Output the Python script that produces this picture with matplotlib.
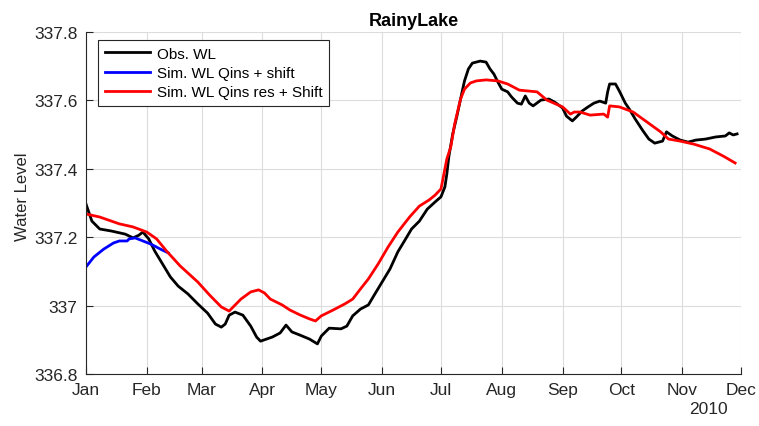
import numpy as np
import matplotlib
matplotlib.use("Agg")
import matplotlib.pyplot as plt
from matplotlib.ticker import FuncFormatter

plt.rcParams['font.family'] = ['Liberation Sans', 'DejaVu Sans']

YEAR_START = np.datetime64('2010-01-01')

# observed water level (day of year offset, level in m)
obs_day = [0, 3, 7, 13, 20, 24, 27, 29, 32, 35, 39, 43, 47, 52, 57, 62, 66, 69, 71, 73,
           76, 80, 84, 87, 89, 92, 95, 99, 102, 105, 109, 114, 118, 120, 124, 130, 133,
           136, 140, 144, 147, 151, 155, 159, 163, 166, 170, 174, 178, 181, 183, 184, 185,
           187, 189, 191, 193, 195, 197, 201, 204, 206, 208, 210, 212, 215, 217, 220, 222,
           224, 226, 228, 232, 236, 239, 243, 245, 248, 250, 253, 256, 259, 262, 265, 266,
           267, 270, 272, 275, 277, 280, 284, 287, 290, 294, 296, 299, 303, 307, 311, 316,
           321, 326, 328, 330, 332]
obs_wl = [337.297, 337.247, 337.224, 337.218, 337.209, 337.198, 337.206, 337.215, 337.195,
          337.160, 337.122, 337.084, 337.057, 337.034, 337.005, 336.978, 336.946, 336.937,
          336.946, 336.972, 336.981, 336.972, 336.940, 336.908, 336.896, 336.902, 336.908,
          336.920, 336.943, 336.923, 336.914, 336.902, 336.888, 336.911, 336.934, 336.932,
          336.940, 336.970, 336.990, 337.002, 337.031, 337.069, 337.107, 337.157, 337.195,
          337.224, 337.247, 337.282, 337.303, 337.318, 337.347, 337.385, 337.435, 337.502,
          337.551, 337.604, 337.657, 337.692, 337.709, 337.715, 337.712, 337.692, 337.677,
          337.654, 337.633, 337.625, 337.610, 337.592, 337.589, 337.613, 337.592, 337.584,
          337.601, 337.604, 337.595, 337.578, 337.554, 337.540, 337.551, 337.569, 337.581,
          337.592, 337.598, 337.592, 337.625, 337.648, 337.648, 337.627, 337.592, 337.575,
          337.546, 337.511, 337.487, 337.475, 337.481, 337.508, 337.496, 337.484, 337.478,
          337.484, 337.487, 337.493, 337.496, 337.505, 337.499, 337.502]

# simulated, Qins + shift (only the early part differs)
sim_day = [0, 4, 9, 14, 17, 21, 22, 25, 29, 33, 38, 42]
sim_wl = [337.113, 337.142, 337.165, 337.183, 337.189, 337.189, 337.195, 337.198,
          337.189, 337.180, 337.165, 337.154]

# simulated, Qins res + shift
res_day = [0, 7, 17, 24, 31, 36, 41, 48, 57, 63, 69, 73, 79, 84, 88, 91, 94, 100, 104,
           109, 114, 117, 120, 126, 132, 136, 140, 144, 149, 154, 159, 165, 170, 175, 178,
           181, 182, 184, 186, 188, 191, 193, 196, 199, 204, 210, 215, 221, 230, 235, 243,
           247, 249, 252, 257, 264, 266, 267, 272, 279, 286, 293, 297, 303, 310, 318, 325, 331]
res_wl = [337.268, 337.259, 337.239, 337.230, 337.215, 337.195, 337.160, 337.116, 337.069,
          337.031, 336.996, 336.984, 337.019, 337.040, 337.046, 337.037, 337.019, 337.002,
          336.987, 336.973, 336.961, 336.955, 336.970, 336.987, 337.005, 337.019, 337.049,
          337.078, 337.122, 337.171, 337.215, 337.259, 337.291, 337.309, 337.323, 337.341,
          337.370, 337.429, 337.464, 337.531, 337.604, 337.633, 337.651, 337.657, 337.660,
          337.657, 337.648, 337.630, 337.625, 337.601, 337.581, 337.560, 337.566, 337.566,
          337.557, 337.560, 337.551, 337.584, 337.581, 337.566, 337.537, 337.508, 337.487,
          337.481, 337.472, 337.458, 337.437, 337.417]

MONTHS = ['Jan', 'Feb', 'Mar', 'Apr', 'May', 'Jun', 'Jul', 'Aug', 'Sep', 'Oct', 'Nov', 'Dec']
Y_TICKS = [336.8, 337.0, 337.2, 337.4, 337.6, 337.8]


def to_dates(days):
    return (YEAR_START + np.array(days, dtype='timedelta64[D]')).astype('datetime64[D]').astype(object)


AX_COLOR = '#262626'

fig = plt.figure(figsize=(7.59, 4.27), dpi=100)
ax = fig.add_axes([0.1133, 0.1218, 0.8630, 0.8009])

ax.plot(to_dates(obs_day), obs_wl, color='k', lw=2.0, label='Obs. WL')
ax.plot(to_dates(sim_day), sim_wl, color=(0, 0, 1), lw=2.0, label='Sim. WL Qins + shift')
ax.plot(to_dates(res_day), res_wl, color=(1, 0, 0), lw=2.0, label='Sim. WL Qins res + Shift')

month_starts = [np.datetime64(f'2010-{m:02d}-01').astype(object) for m in range(1, 13)]
ax.set_xlim(month_starts[0], month_starts[-1])
ax.set_xticks(month_starts)
ax.set_xticklabels(MONTHS)
ax.set_ylim(336.8, 337.8)
ax.set_yticks(Y_TICKS)
ax.yaxis.set_major_formatter(FuncFormatter(lambda v, _: f'{v:g}'))

ax.grid(True, color='#dcdcdc', lw=0.8)
ax.set_axisbelow(True)
for side in ('top', 'right'):
    ax.spines[side].set_visible(False)
for side in ('left', 'bottom'):
    ax.spines[side].set_color(AX_COLOR)
    ax.spines[side].set_linewidth(0.8)
ax.tick_params(direction='in', length=5, width=0.8, color=AX_COLOR,
               labelcolor=AX_COLOR, labelsize=12.5, pad=6)

ax.set_ylabel('Water Level', fontsize=12, color=AX_COLOR)
ax.yaxis.set_label_coords(-0.086, 0.52)
ax.set_title('RainyLake', fontsize=13, fontweight='bold', pad=5)
ax.text(0.979, -0.08, '2010', transform=ax.transAxes, ha='right', va='top',
        fontsize=12.5, color=AX_COLOR)

leg = ax.legend(loc='upper left', bbox_to_anchor=(0.018, 0.977), fontsize=11,
                frameon=True, fancybox=False, framealpha=1, edgecolor=AX_COLOR,
                handlelength=3.0, handletextpad=0.4, borderpad=0.45, labelspacing=0.35,
                borderaxespad=0)
leg.get_frame().set_linewidth(0.8)

fig.savefig('out.png', dpi=100)
